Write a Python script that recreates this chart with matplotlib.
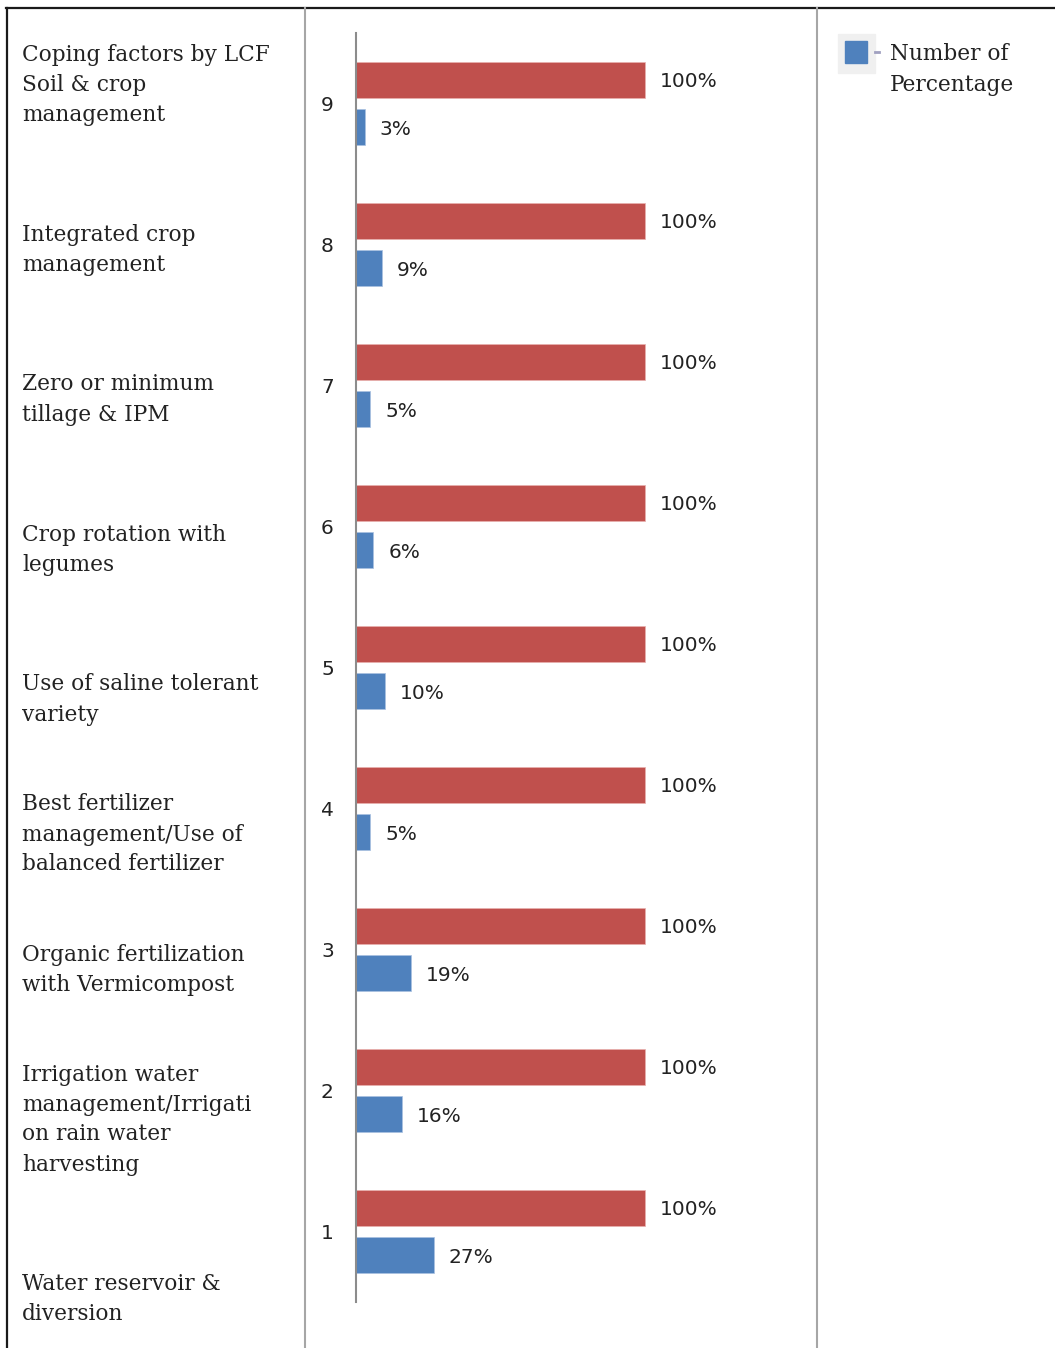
import matplotlib
matplotlib.use('Agg')
import matplotlib.pyplot as plt
from matplotlib.lines import Line2D
from matplotlib.patches import Rectangle
import numpy as np

# data
categories = [1, 2, 3, 4, 5, 6, 7, 8, 9]
total_pct = [100, 100, 100, 100, 100, 100, 100, 100, 100]
number_pct = [27, 16, 19, 5, 10, 6, 5, 9, 3]

factor_labels = [
    "Coping factors by LCF\nSoil & crop\nmanagement",
    "Integrated crop\nmanagement",
    "Zero or minimum\ntillage & IPM",
    "Crop rotation with\nlegumes",
    "Use of saline tolerant\nvariety",
    "Best fertilizer\nmanagement/Use of\nbalanced fertilizer",
    "Organic fertilization\nwith Vermicompost",
    "Irrigation water\nmanagement/Irrigati\non rain water\nharvesting",
    "Water reservoir &\ndiversion",
]
# first-line centre of each label block (pixels from top)
label_rows = [54, 234, 384, 534, 684, 804, 954, 1074, 1284]

RED = '#C0504D'
BLUE = '#4F81BD'
W, H = 1055, 1348
SERIF = ['DejaVu Serif']
LINE_PX = 30

fig = plt.figure(figsize=(W / 100, H / 100), dpi=100)

def fx(px):
    return px / W

def fy(py):
    return 1 - py / H

# table lines
fig.add_artist(Line2D([fx(6), 1], [fy(8), fy(8)], color='#1a1a1a', lw=1.6))
fig.add_artist(Line2D([fx(7), fx(7)], [0, fy(8)], color='#1a1a1a', lw=1.6))
fig.add_artist(Line2D([fx(305), fx(305)], [0, fy(8)], color='#a6a6a6', lw=1.5))
fig.add_artist(Line2D([fx(817), fx(817)], [0, fy(8)], color='#a6a6a6', lw=1.5))

# left column text, one line at a time so the spacing is exact
def block(x, row, txt):
    for i, line in enumerate(txt.split('\n')):
        fig.text(fx(x), fy(row + i * LINE_PX), line, ha='left', va='center_baseline',
                 fontsize=15.6, family=SERIF, color='#222222')

for txt, row in zip(factor_labels, label_rows):
    block(22, row - 2, txt)

# bar chart
ax = fig.add_axes([fx(356), fy(1302), fx(760) - fx(356), fy(33) - fy(1302)])
y = np.array(categories)
h = 0.26
ax.barh(y + 0.167, total_pct, height=h, color=RED, edgecolor='#e8b0ae', linewidth=0.5)
ax.barh(y - 0.167, number_pct, height=h, color=BLUE, edgecolor='#a9c1e0', linewidth=0.5)
for yi, v in zip(y, total_pct):
    ax.text(v + 5.2, yi + 0.167, f'{v}%', va='center_baseline', ha='left', fontsize=14.5, color='#222222')
for yi, v in zip(y, number_pct):
    ax.text(v + 5.2, yi - 0.167, f'{v}%', va='center_baseline', ha='left', fontsize=14.5, color='#222222')
ax.set_xlim(0, 140)
ax.set_ylim(0.5, 9.5)
ax.set_yticks(categories)
ax.set_yticklabels([str(c) for c in categories], fontsize=14.5, color='#222222')
ax.tick_params(axis='y', length=0, pad=16)
ax.set_xticks([])
for s in ['top', 'right', 'bottom']:
    ax.spines[s].set_visible(False)
ax.spines['left'].set_color('#8c8c8c')
ax.spines['left'].set_linewidth(1.5)

# legend
fig.add_artist(Rectangle((fx(838), fy(73)), fx(37), fy(34) - fy(73), color='#f0f0f0'))
fig.add_artist(Rectangle((fx(845), fy(63)), fx(22), fy(41) - fy(63), color=BLUE))
fig.add_artist(Line2D([fx(875), fx(879)], [fy(52), fy(52)], color='#a0a0c0', lw=2))
block(890, 54 - 2, "Number of\nPercentage")

fig.savefig('out.png', dpi=100, facecolor='white')
